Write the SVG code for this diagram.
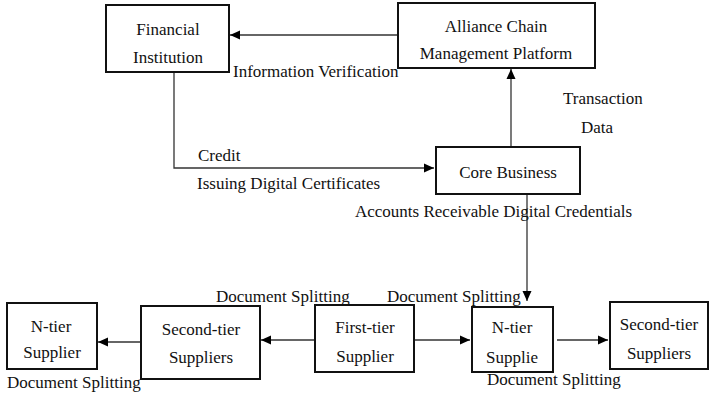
<svg xmlns="http://www.w3.org/2000/svg" width="712" height="395" viewBox="0 0 712 395">
<style>
text{font-family:'Liberation Serif','Times New Roman',Times,serif;font-size:17px;fill:#111}
.box{fill:#fff;stroke:#111;stroke-width:2}
.m{text-anchor:middle}
.c{fill:none;stroke:#333;stroke-width:1.3}
</style>
<defs>
<marker id="ah" viewBox="0 0 10 10" refX="10" refY="5" markerWidth="10" markerHeight="10" markerUnits="userSpaceOnUse" orient="auto">
<path d="M0,0.5 L10,5 L0,9.5 Z" fill="#000"/>
</marker>
</defs>
<rect width="712" height="395" fill="#fff"/>
<g id="connectors">
<line class="c" x1="398" y1="35" x2="230" y2="35" marker-end="url(#ah)"/>
<polyline class="c" points="174,72 174,168 434,168" marker-end="url(#ah)"/>
<line class="c" x1="511" y1="147" x2="511" y2="69" marker-end="url(#ah)"/>
<line class="c" x1="527" y1="194" x2="527" y2="301" marker-end="url(#ah)"/>
<line class="c" x1="315" y1="340" x2="261" y2="340" marker-end="url(#ah)"/>
<line class="c" x1="141" y1="342" x2="98" y2="342" marker-end="url(#ah)"/>
<line class="c" x1="414" y1="340" x2="470" y2="340" marker-end="url(#ah)"/>
<line class="c" x1="557" y1="340" x2="608" y2="340" marker-end="url(#ah)"/>
</g>
<g id="financial">
<rect class="box" x="106" y="5" width="123" height="67"/>
<text class="m" x="168" y="35">Financial</text>
<text class="m" x="168" y="63">Institution</text>
</g>
<g id="alliance">
<rect class="box" x="398" y="3" width="197" height="65"/>
<text class="m" x="496" y="32">Alliance Chain</text>
<text class="m" x="496" y="59">Management Platform</text>
</g>
<g id="core">
<rect class="box" x="436" y="147" width="144" height="47"/>
<text class="m" x="508" y="178">Core Business</text>
</g>
<g id="ntier-left">
<rect class="box" x="7" y="303" width="90" height="66"/>
<text class="m" x="51" y="332">N-tier</text>
<text class="m" x="52" y="358">Supplier</text>
</g>
<g id="second-left">
<rect class="box" x="141" y="306" width="119" height="73"/>
<text class="m" x="201" y="335">Second-tier</text>
<text class="m" x="201" y="363">Suppliers</text>
</g>
<g id="first">
<rect class="box" x="315" y="305" width="99" height="67"/>
<text class="m" x="365" y="333">First-tier</text>
<text class="m" x="365" y="362">Supplier</text>
</g>
<g id="ntier-right">
<rect class="box" x="472" y="307" width="81" height="65"/>
<text class="m" x="512" y="333">N-tier</text>
<text class="m" x="512" y="363">Supplie</text>
</g>
<g id="second-right">
<rect class="box" x="610" y="302" width="98" height="67"/>
<text class="m" x="659" y="330">Second-tier</text>
<text class="m" x="659" y="359">Suppliers</text>
</g>
<g id="labels">
<text x="233" y="77">Information Verification</text>
<text x="563" y="104">Transaction</text>
<text x="581" y="133">Data</text>
<text x="198" y="161">Credit</text>
<text x="197" y="189">Issuing Digital Certificates</text>
<text x="355" y="217">Accounts Receivable Digital Credentials</text>
<text x="216" y="302">Document Splitting</text>
<text x="387" y="302">Document Splitting</text>
<text x="7" y="388">Document Splitting</text>
<text x="487" y="385">Document Splitting</text>
</g>
</svg>
